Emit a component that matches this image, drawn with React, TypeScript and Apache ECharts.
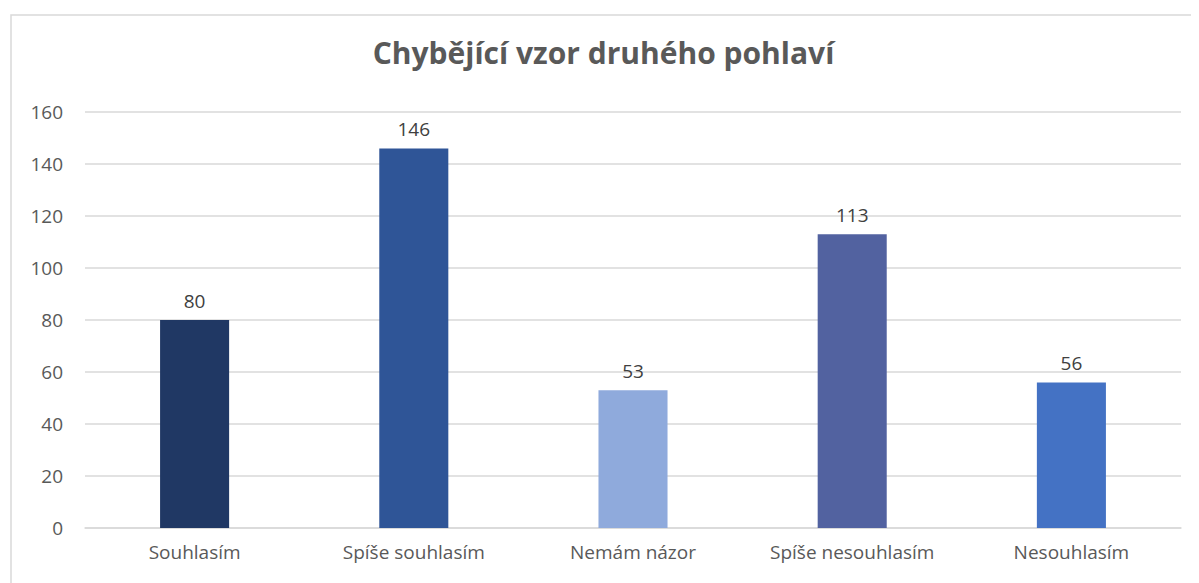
import React, { useEffect, useRef } from "react";
import * as echarts from "echarts";

const categories = ["Souhlasím", "Spíše souhlasím", "Nemám názor", "Spíše nesouhlasím", "Nesouhlasím"];
const values = [80, 146, 53, 113, 56];
const barColors = ["#203864", "#2F5597", "#8FAADC", "#5262A0", "#4472C4"];
const titleText = "Chybějící vzor druhého pohlaví";

export default function App() {
  const ref = useRef<HTMLDivElement>(null);
  useEffect(() => {
    if (!ref.current) return;
    const chart = echarts.init(ref.current, null, { renderer: "svg" });
    chart.setOption({
      animation: false,
      backgroundColor: "#ffffff",
      title: {
        text: titleText,
        left: "center",
        top: 24,
        textStyle: {
          fontFamily: "Open Sans",
          fontSize: 30,
          fontWeight: "bold",
          color: "#595959",
        },
      },
      graphic: [
        {
          type: "rect",
          left: 0.5,
          top: 4.5,
          shape: { width: 1400, height: 800 },
          style: { fill: "none", stroke: "#d9d9d9", lineWidth: 1.5 },
          silent: true,
        },
      ],
      grid: { left: 77, right: 18, top: 104, bottom: 55, containLabel: false },
      xAxis: {
        type: "category",
        data: categories,
        axisLine: { show: true, lineStyle: { color: "#d9d9d9", width: 1.5 } },
        axisTick: { show: false },
        axisLabel: {
          color: "#595959",
          fontSize: 19,
          fontFamily: "Open Sans",
          margin: 14,
          interval: 0,
          hideOverlap: false,
        },
      },
      yAxis: {
        type: "value",
        min: 0,
        max: 160,
        interval: 20,
        axisLine: { show: false },
        axisTick: { show: false },
        splitLine: { lineStyle: { color: "#d9d9d9", width: 1.5 } },
        axisLabel: { color: "#595959", fontSize: 19, fontFamily: "Open Sans", margin: 22 },
      },
      series: [
        {
          type: "bar",
          barWidth: "31.5%",
          data: values.map((v, i) => ({ value: v, itemStyle: { color: barColors[i] } })),
          label: {
            show: true,
            position: "top",
            distance: 10,
            color: "#404040",
            fontSize: 19,
            fontFamily: "Open Sans",
          },
        },
      ],
    });
    return () => chart.dispose();
  }, []);
  return <div ref={ref} style={{ width: 1191, height: 575 }} />;
}
